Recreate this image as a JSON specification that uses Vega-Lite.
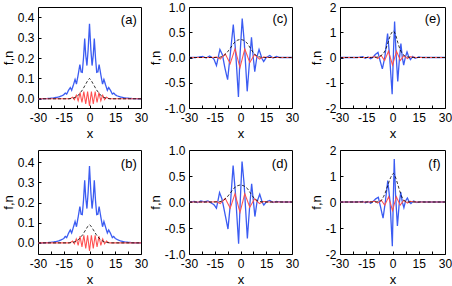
{
  "$schema": "https://vega.github.io/schema/vega-lite/v6.json",
  "padding": {"left": 1, "top": 0, "right": 1, "bottom": 0},
  "background": "white",
  "config": {
    "font": "Liberation Sans",
    "view": {"stroke": "#000", "strokeWidth": 1},
    "axis": {"grid": false, "domain": false, "tickColor": "#000", "tickSize": -3, "tickWidth": 1, "labelFontSize": 12, "labelColor": "#000", "labelPadding": 7, "titleFontSize": 13, "titleFontWeight": "normal", "titleColor": "#000", "titlePadding": 2, "labelFlush": false, "labelOverlap": false},
    "axisX": {"titlePadding": 4},
    "text": {"font": "Liberation Sans", "fontSize": 13, "color": "#000"}
  },
  "datasets": {
    "a": [
      {"s":"f","x":-30,"y":0},{"s":"f","x":-25,"y":0.001},{"s":"f","x":-21,"y":0.004},{"s":"f","x":-18,"y":0.009},{"s":"f","x":-16,"y":0.015},{"s":"f","x":-15,"y":0.02},{"s":"f","x":-14.1,"y":0.028},{"s":"f","x":-13.3,"y":0.023},{"s":"f","x":-12.2,"y":0.042},{"s":"f","x":-11.2,"y":0.055},{"s":"f","x":-10.4,"y":0.042},{"s":"f","x":-9.3,"y":0.07},{"s":"f","x":-8.4,"y":0.095},{"s":"f","x":-7.6,"y":0.072},{"s":"f","x":-6.6,"y":0.118},{"s":"f","x":-5.6,"y":0.168},{"s":"f","x":-4.9,"y":0.132},{"s":"f","x":-4.2,"y":0.13},{"s":"f","x":-3.5,"y":0.2},{"s":"f","x":-2.8,"y":0.295},{"s":"f","x":-2.2,"y":0.215},{"s":"f","x":-1.5,"y":0.163},{"s":"f","x":-0.8,"y":0.24},{"s":"f","x":0,"y":0.368},{"s":"f","x":0.8,"y":0.24},{"s":"f","x":1.5,"y":0.163},{"s":"f","x":2.2,"y":0.215},{"s":"f","x":2.8,"y":0.295},{"s":"f","x":3.5,"y":0.2},{"s":"f","x":4.2,"y":0.13},{"s":"f","x":4.9,"y":0.132},{"s":"f","x":5.6,"y":0.168},{"s":"f","x":6.6,"y":0.118},{"s":"f","x":7.6,"y":0.072},{"s":"f","x":8.4,"y":0.095},{"s":"f","x":9.3,"y":0.07},{"s":"f","x":10.4,"y":0.042},{"s":"f","x":11.2,"y":0.055},{"s":"f","x":12.2,"y":0.042},{"s":"f","x":13.3,"y":0.023},{"s":"f","x":14.1,"y":0.028},{"s":"f","x":15,"y":0.02},{"s":"f","x":16,"y":0.015},{"s":"f","x":18,"y":0.009},{"s":"f","x":21,"y":0.004},{"s":"f","x":25,"y":0.001},{"s":"f","x":30,"y":0},
      {"s":"g","x":-30,"y":0},{"s":"g","x":-12,"y":0},{"s":"g","x":-11,"y":0.002},{"s":"g","x":-9.9,"y":0.008},{"s":"g","x":-8.8,"y":-0.004},{"s":"g","x":-7.7,"y":0.018},{"s":"g","x":-6.6,"y":-0.01},{"s":"g","x":-5.5,"y":0.03},{"s":"g","x":-4.4,"y":-0.018},{"s":"g","x":-3.3,"y":0.035},{"s":"g","x":-2.2,"y":-0.025},{"s":"g","x":-1.1,"y":0.035},{"s":"g","x":0,"y":-0.035},{"s":"g","x":1.1,"y":0.035},{"s":"g","x":2.2,"y":-0.025},{"s":"g","x":3.3,"y":0.035},{"s":"g","x":4.4,"y":-0.018},{"s":"g","x":5.5,"y":0.03},{"s":"g","x":6.6,"y":-0.01},{"s":"g","x":7.7,"y":0.018},{"s":"g","x":8.8,"y":-0.004},{"s":"g","x":9.9,"y":0.008},{"s":"g","x":11,"y":0.002},{"s":"g","x":12,"y":0},{"s":"g","x":30,"y":0},
      {"s":"n","x":-30,"y":0},{"s":"n","x":-12,"y":0},{"s":"n","x":-10,"y":0.002},{"s":"n","x":-8,"y":0.008},{"s":"n","x":-6,"y":0.022},{"s":"n","x":-4,"y":0.045},{"s":"n","x":-2,"y":0.075},{"s":"n","x":-1,"y":0.09},{"s":"n","x":0,"y":0.1},{"s":"n","x":1,"y":0.09},{"s":"n","x":2,"y":0.075},{"s":"n","x":4,"y":0.045},{"s":"n","x":6,"y":0.022},{"s":"n","x":8,"y":0.008},{"s":"n","x":10,"y":0.002},{"s":"n","x":12,"y":0},{"s":"n","x":30,"y":0}
    ],
    "b": [
      {"s":"f","x":-30,"y":0},{"s":"f","x":-25,"y":0.001},{"s":"f","x":-21,"y":0.004},{"s":"f","x":-18,"y":0.01},{"s":"f","x":-16,"y":0.017},{"s":"f","x":-15,"y":0.022},{"s":"f","x":-14.1,"y":0.032},{"s":"f","x":-13.3,"y":0.026},{"s":"f","x":-12.2,"y":0.048},{"s":"f","x":-11.2,"y":0.064},{"s":"f","x":-10.4,"y":0.049},{"s":"f","x":-9.3,"y":0.08},{"s":"f","x":-8.4,"y":0.106},{"s":"f","x":-7.6,"y":0.08},{"s":"f","x":-6.6,"y":0.128},{"s":"f","x":-5.6,"y":0.18},{"s":"f","x":-4.9,"y":0.142},{"s":"f","x":-4.2,"y":0.14},{"s":"f","x":-3.5,"y":0.21},{"s":"f","x":-2.8,"y":0.31},{"s":"f","x":-2.2,"y":0.225},{"s":"f","x":-1.5,"y":0.17},{"s":"f","x":-0.8,"y":0.25},{"s":"f","x":0,"y":0.38},{"s":"f","x":0.8,"y":0.25},{"s":"f","x":1.5,"y":0.17},{"s":"f","x":2.2,"y":0.225},{"s":"f","x":2.8,"y":0.31},{"s":"f","x":3.5,"y":0.21},{"s":"f","x":4.2,"y":0.14},{"s":"f","x":4.9,"y":0.142},{"s":"f","x":5.6,"y":0.18},{"s":"f","x":6.6,"y":0.128},{"s":"f","x":7.6,"y":0.08},{"s":"f","x":8.4,"y":0.106},{"s":"f","x":9.3,"y":0.08},{"s":"f","x":10.4,"y":0.049},{"s":"f","x":11.2,"y":0.064},{"s":"f","x":12.2,"y":0.048},{"s":"f","x":13.3,"y":0.026},{"s":"f","x":14.1,"y":0.032},{"s":"f","x":15,"y":0.022},{"s":"f","x":16,"y":0.017},{"s":"f","x":18,"y":0.01},{"s":"f","x":21,"y":0.004},{"s":"f","x":25,"y":0.001},{"s":"f","x":30,"y":0},
      {"s":"g","x":-30,"y":0},{"s":"g","x":-12,"y":0},{"s":"g","x":-11,"y":0.002},{"s":"g","x":-9.9,"y":0.009},{"s":"g","x":-8.8,"y":-0.005},{"s":"g","x":-7.7,"y":0.02},{"s":"g","x":-6.6,"y":-0.012},{"s":"g","x":-5.5,"y":0.033},{"s":"g","x":-4.4,"y":-0.02},{"s":"g","x":-3.3,"y":0.038},{"s":"g","x":-2.2,"y":-0.028},{"s":"g","x":-1.1,"y":0.038},{"s":"g","x":0,"y":-0.04},{"s":"g","x":1.1,"y":0.038},{"s":"g","x":2.2,"y":-0.028},{"s":"g","x":3.3,"y":0.038},{"s":"g","x":4.4,"y":-0.02},{"s":"g","x":5.5,"y":0.033},{"s":"g","x":6.6,"y":-0.012},{"s":"g","x":7.7,"y":0.02},{"s":"g","x":8.8,"y":-0.005},{"s":"g","x":9.9,"y":0.009},{"s":"g","x":11,"y":0.002},{"s":"g","x":12,"y":0},{"s":"g","x":30,"y":0},
      {"s":"n","x":-30,"y":0},{"s":"n","x":-12,"y":0},{"s":"n","x":-10,"y":0.002},{"s":"n","x":-8,"y":0.007},{"s":"n","x":-6,"y":0.02},{"s":"n","x":-4,"y":0.04},{"s":"n","x":-2,"y":0.068},{"s":"n","x":-1,"y":0.082},{"s":"n","x":0,"y":0.09},{"s":"n","x":1,"y":0.082},{"s":"n","x":2,"y":0.068},{"s":"n","x":4,"y":0.04},{"s":"n","x":6,"y":0.02},{"s":"n","x":8,"y":0.007},{"s":"n","x":10,"y":0.002},{"s":"n","x":12,"y":0},{"s":"n","x":30,"y":0}
    ],
    "c": [
      {"s":"f","x":-30,"y":0},{"s":"f","x":-26,"y":0},{"s":"f","x":-24,"y":0.01},{"s":"f","x":-22,"y":0.02},{"s":"f","x":-20,"y":-0.01},{"s":"f","x":-18,"y":0.03},{"s":"f","x":-16.5,"y":0},{"s":"f","x":-15.5,"y":-0.03},{"s":"f","x":-14,"y":-0.16},{"s":"f","x":-12,"y":0.16},{"s":"f","x":-10.5,"y":0.05},{"s":"f","x":-9,"y":-0.22},{"s":"f","x":-7.5,"y":-0.44},{"s":"f","x":-6,"y":0.05},{"s":"f","x":-4.2,"y":0.65},{"s":"f","x":-2.8,"y":0.1},{"s":"f","x":-1.2,"y":-0.78},{"s":"f","x":-0.2,"y":0.1},{"s":"f","x":1,"y":0.77},{"s":"f","x":2.2,"y":0.3},{"s":"f","x":3.9,"y":-0.67},{"s":"f","x":5.2,"y":-0.1},{"s":"f","x":6.4,"y":0.4},{"s":"f","x":7.3,"y":0.05},{"s":"f","x":8.3,"y":-0.28},{"s":"f","x":9.5,"y":0},{"s":"f","x":10.8,"y":0.16},{"s":"f","x":12.5,"y":-0.02},{"s":"f","x":13.5,"y":-0.08},{"s":"f","x":15,"y":0},{"s":"f","x":17,"y":0.04},{"s":"f","x":19,"y":-0.01},{"s":"f","x":21,"y":0.02},{"s":"f","x":23,"y":0},{"s":"f","x":30,"y":0},
      {"s":"g","x":-30,"y":0},{"s":"g","x":-16,"y":0},{"s":"g","x":-14,"y":0.01},{"s":"g","x":-11.8,"y":-0.03},{"s":"g","x":-8.9,"y":0.07},{"s":"g","x":-6,"y":-0.12},{"s":"g","x":-3.2,"y":0.17},{"s":"g","x":-0.3,"y":-0.2},{"s":"g","x":2.5,"y":0.17},{"s":"g","x":5.4,"y":-0.1},{"s":"g","x":8.2,"y":0.06},{"s":"g","x":11,"y":-0.03},{"s":"g","x":13.5,"y":0.01},{"s":"g","x":16,"y":0},{"s":"g","x":30,"y":0},
      {"s":"n","x":-30,"y":0},{"s":"n","x":-14,"y":0},{"s":"n","x":-12,"y":0.005},{"s":"n","x":-10,"y":0.03},{"s":"n","x":-8,"y":0.09},{"s":"n","x":-6,"y":0.18},{"s":"n","x":-4,"y":0.28},{"s":"n","x":-2,"y":0.34},{"s":"n","x":0,"y":0.36},{"s":"n","x":2,"y":0.34},{"s":"n","x":4,"y":0.28},{"s":"n","x":6,"y":0.17},{"s":"n","x":8,"y":0.07},{"s":"n","x":10,"y":0.02},{"s":"n","x":12,"y":0.005},{"s":"n","x":14,"y":0},{"s":"n","x":30,"y":0}
    ],
    "d": [
      {"s":"f","x":-30,"y":0},{"s":"f","x":-27,"y":0.01},{"s":"f","x":-25,"y":-0.01},{"s":"f","x":-23,"y":0.02},{"s":"f","x":-21,"y":0},{"s":"f","x":-19,"y":0.02},{"s":"f","x":-17,"y":-0.02},{"s":"f","x":-15.5,"y":-0.05},{"s":"f","x":-14,"y":-0.12},{"s":"f","x":-12.2,"y":0.18},{"s":"f","x":-10.8,"y":0.06},{"s":"f","x":-9.2,"y":-0.2},{"s":"f","x":-7.3,"y":-0.52},{"s":"f","x":-5.8,"y":0},{"s":"f","x":-4.3,"y":0.7},{"s":"f","x":-2.9,"y":0.15},{"s":"f","x":-1.1,"y":-0.8},{"s":"f","x":-0.1,"y":0.05},{"s":"f","x":0.9,"y":0.78},{"s":"f","x":2.1,"y":0.35},{"s":"f","x":4,"y":-0.7},{"s":"f","x":5.3,"y":-0.1},{"s":"f","x":6.5,"y":0.35},{"s":"f","x":7.4,"y":0.05},{"s":"f","x":8.4,"y":-0.28},{"s":"f","x":9.6,"y":0},{"s":"f","x":11.2,"y":0.15},{"s":"f","x":12.6,"y":0},{"s":"f","x":13.6,"y":-0.06},{"s":"f","x":15,"y":0},{"s":"f","x":17,"y":0.03},{"s":"f","x":19,"y":-0.01},{"s":"f","x":21,"y":0.01},{"s":"f","x":24,"y":0},{"s":"f","x":30,"y":0},
      {"s":"g","x":-30,"y":0},{"s":"g","x":-16,"y":0},{"s":"g","x":-14,"y":0.01},{"s":"g","x":-11.8,"y":-0.03},{"s":"g","x":-8.9,"y":0.07},{"s":"g","x":-6,"y":-0.12},{"s":"g","x":-3.2,"y":0.16},{"s":"g","x":-0.3,"y":-0.2},{"s":"g","x":2.5,"y":0.16},{"s":"g","x":5.4,"y":-0.1},{"s":"g","x":8.2,"y":0.06},{"s":"g","x":11,"y":-0.03},{"s":"g","x":13.5,"y":0.01},{"s":"g","x":16,"y":0},{"s":"g","x":30,"y":0},
      {"s":"n","x":-30,"y":0},{"s":"n","x":-14,"y":0},{"s":"n","x":-12,"y":0.005},{"s":"n","x":-10,"y":0.03},{"s":"n","x":-8,"y":0.085},{"s":"n","x":-6,"y":0.17},{"s":"n","x":-4,"y":0.26},{"s":"n","x":-2,"y":0.31},{"s":"n","x":0,"y":0.33},{"s":"n","x":2,"y":0.31},{"s":"n","x":4,"y":0.26},{"s":"n","x":6,"y":0.16},{"s":"n","x":8,"y":0.07},{"s":"n","x":10,"y":0.02},{"s":"n","x":12,"y":0.005},{"s":"n","x":14,"y":0},{"s":"n","x":30,"y":0}
    ],
    "e": [
      {"s":"f","x":-30,"y":0},{"s":"f","x":-20,"y":0},{"s":"f","x":-17,"y":0.03},{"s":"f","x":-15.5,"y":-0.03},{"s":"f","x":-14,"y":0.02},{"s":"f","x":-12.5,"y":-0.05},{"s":"f","x":-11,"y":0.02},{"s":"f","x":-9.8,"y":0.12},{"s":"f","x":-8.3,"y":0.2},{"s":"f","x":-7,"y":-0.15},{"s":"f","x":-5.8,"y":-0.45},{"s":"f","x":-4.4,"y":0},{"s":"f","x":-2.8,"y":0.95},{"s":"f","x":-1.6,"y":0},{"s":"f","x":-0.2,"y":-1.45},{"s":"f","x":0.6,"y":0.3},{"s":"f","x":1.2,"y":1.42},{"s":"f","x":2,"y":0.2},{"s":"f","x":3,"y":-0.95},{"s":"f","x":3.9,"y":-0.1},{"s":"f","x":4.8,"y":0.55},{"s":"f","x":5.6,"y":0},{"s":"f","x":6.4,"y":-0.3},{"s":"f","x":7.3,"y":0},{"s":"f","x":8.3,"y":0.22},{"s":"f","x":9.3,"y":0.02},{"s":"f","x":10.3,"y":-0.08},{"s":"f","x":11.5,"y":0.04},{"s":"f","x":13,"y":-0.03},{"s":"f","x":15,"y":0.02},{"s":"f","x":17,"y":0},{"s":"f","x":30,"y":0},
      {"s":"g","x":-30,"y":0},{"s":"g","x":-14,"y":0},{"s":"g","x":-12,"y":0.01},{"s":"g","x":-10,"y":0.03},{"s":"g","x":-8.5,"y":-0.04},{"s":"g","x":-6.5,"y":0.08},{"s":"g","x":-4.5,"y":-0.12},{"s":"g","x":-2.3,"y":0.25},{"s":"g","x":0,"y":-0.3},{"s":"g","x":2.3,"y":0.25},{"s":"g","x":4.5,"y":-0.12},{"s":"g","x":6.5,"y":0.08},{"s":"g","x":8.5,"y":-0.04},{"s":"g","x":10,"y":0.03},{"s":"g","x":12,"y":0.01},{"s":"g","x":14,"y":0},{"s":"g","x":30,"y":0},
      {"s":"n","x":-30,"y":0},{"s":"n","x":-12,"y":0},{"s":"n","x":-10,"y":0.005},{"s":"n","x":-8,"y":0.02},{"s":"n","x":-6,"y":0.1},{"s":"n","x":-5,"y":0.18},{"s":"n","x":-4,"y":0.3},{"s":"n","x":-3,"y":0.5},{"s":"n","x":-2,"y":0.72},{"s":"n","x":-1,"y":0.92},{"s":"n","x":0,"y":1.03},{"s":"n","x":0.5,"y":1.05},{"s":"n","x":1,"y":1.02},{"s":"n","x":2,"y":0.85},{"s":"n","x":3,"y":0.6},{"s":"n","x":4,"y":0.38},{"s":"n","x":5,"y":0.22},{"s":"n","x":6,"y":0.12},{"s":"n","x":7,"y":0.06},{"s":"n","x":8,"y":0.03},{"s":"n","x":10,"y":0.005},{"s":"n","x":12,"y":0},{"s":"n","x":30,"y":0}
    ],
    "f": [
      {"s":"f","x":-30,"y":0},{"s":"f","x":-20,"y":0},{"s":"f","x":-17,"y":0.02},{"s":"f","x":-15.5,"y":-0.03},{"s":"f","x":-14,"y":0.02},{"s":"f","x":-12.5,"y":-0.05},{"s":"f","x":-11,"y":0.03},{"s":"f","x":-9.6,"y":0.12},{"s":"f","x":-8.1,"y":0.18},{"s":"f","x":-6.8,"y":-0.2},{"s":"f","x":-5.4,"y":-0.62},{"s":"f","x":-4.1,"y":0},{"s":"f","x":-2.7,"y":0.82},{"s":"f","x":-1.4,"y":0},{"s":"f","x":-0.1,"y":-1.7},{"s":"f","x":0.5,"y":0.2},{"s":"f","x":1,"y":1.65},{"s":"f","x":1.8,"y":0.2},{"s":"f","x":2.8,"y":-0.92},{"s":"f","x":3.8,"y":-0.1},{"s":"f","x":4.7,"y":0.38},{"s":"f","x":5.6,"y":0},{"s":"f","x":6.5,"y":-0.22},{"s":"f","x":7.5,"y":0.05},{"s":"f","x":8.5,"y":0.15},{"s":"f","x":9.6,"y":0},{"s":"f","x":10.5,"y":-0.06},{"s":"f","x":12,"y":0.04},{"s":"f","x":14,"y":-0.02},{"s":"f","x":16,"y":0.01},{"s":"f","x":18,"y":0},{"s":"f","x":30,"y":0},
      {"s":"g","x":-30,"y":0},{"s":"g","x":-14,"y":0},{"s":"g","x":-12,"y":0.01},{"s":"g","x":-10,"y":0.03},{"s":"g","x":-8.5,"y":-0.04},{"s":"g","x":-6.5,"y":0.07},{"s":"g","x":-4.4,"y":-0.12},{"s":"g","x":-2.2,"y":0.2},{"s":"g","x":0,"y":-0.33},{"s":"g","x":2.2,"y":0.2},{"s":"g","x":4.4,"y":-0.12},{"s":"g","x":6.5,"y":0.07},{"s":"g","x":8.5,"y":-0.04},{"s":"g","x":10,"y":0.03},{"s":"g","x":12,"y":0.01},{"s":"g","x":14,"y":0},{"s":"g","x":30,"y":0},
      {"s":"n","x":-30,"y":0},{"s":"n","x":-10,"y":0},{"s":"n","x":-8,"y":0.01},{"s":"n","x":-7,"y":0.02},{"s":"n","x":-6,"y":0.1},{"s":"n","x":-5,"y":0.22},{"s":"n","x":-4,"y":0.38},{"s":"n","x":-3,"y":0.58},{"s":"n","x":-2,"y":0.78},{"s":"n","x":-1,"y":0.95},{"s":"n","x":0,"y":1.07},{"s":"n","x":0.5,"y":1.1},{"s":"n","x":1,"y":1.07},{"s":"n","x":2,"y":0.9},{"s":"n","x":3,"y":0.68},{"s":"n","x":4,"y":0.45},{"s":"n","x":5,"y":0.25},{"s":"n","x":6,"y":0.1},{"s":"n","x":7,"y":0.03},{"s":"n","x":8,"y":0.01},{"s":"n","x":10,"y":0},{"s":"n","x":30,"y":0}
    ]
  },
  "bounds": "flush",
  "align": "each",
  "columns": 3,
  "spacing": {"row": 42, "column": 48},
  "concat": [
    {"width": 103, "height": 101,
     "encoding": {
       "x": {"field": "x", "type": "quantitative", "scale": {"domain": [-30, 30], "nice": false}, "axis": {"values": [-30,-22.5,-15,-7.5,0,7.5,15,22.5,30], "labelExpr": "datum.value % 15 == 0 ? '' + datum.value : ''", "title": "x"}},
       "y": {"field": "y", "type": "quantitative", "scale": {"domain": [-0.045, 0.45], "nice": false, "zero": false}, "axis": {"values": [0,0.1,0.2,0.3,0.4], "format": ".1f", "title": "f,n"}}
     },
     "layer": [
      {"data": {"name": "a"}, "mark": {"type": "line", "clip": true},
       "encoding": {
         "color": {"field": "s", "type": "nominal", "scale": {"domain": ["f","g","n"], "range": ["#3b5cf2","#ff5050","#000000"]}, "legend": null},
         "strokeDash": {"field": "s", "type": "nominal", "scale": {"domain": ["f","g","n"], "range": [[1,0],[1,0],[3,2]]}, "legend": null},
         "strokeWidth": {"field": "s", "type": "ordinal", "scale": {"domain": ["f","g","n"], "range": [1.3,0.8,1.5]}, "legend": null}
       }},
      {"data": {"values": [{"x": 27.5, "y": 0.388}]}, "mark": {"type": "text", "text": "(a)", "align": "right", "baseline": "middle"}, "encoding": {}}
    ]},
    {"width": 103, "height": 101,
     "encoding": {
       "x": {"field": "x", "type": "quantitative", "scale": {"domain": [-30, 30], "nice": false}, "axis": {"values": [-30,-22.5,-15,-7.5,0,7.5,15,22.5,30], "labelExpr": "datum.value % 15 == 0 ? '' + datum.value : ''", "title": "x"}},
       "y": {"field": "y", "type": "quantitative", "scale": {"domain": [-1, 1], "nice": false, "zero": false}, "axis": {"values": [-1,-0.5,0,0.5,1], "labelExpr": "replace(format(datum.value, '.1f'), '\u2212', '-')", "title": "f,n"}}
     },
     "layer": [
      {"data": {"name": "c"}, "mark": {"type": "line", "clip": true},
       "encoding": {
         "color": {"field": "s", "type": "nominal", "scale": {"domain": ["f","g","n"], "range": ["#3b5cf2","#ff5050","#000000"]}, "legend": null},
         "strokeDash": {"field": "s", "type": "nominal", "scale": {"domain": ["f","g","n"], "range": [[1,0],[1,0],[3,2]]}, "legend": null},
         "strokeWidth": {"field": "s", "type": "ordinal", "scale": {"domain": ["f","g","n"], "range": [1.3,0.8,1.5]}, "legend": null}
       }},
      {"data": {"values": [{"x": 27.5, "y": 0.76}]}, "mark": {"type": "text", "text": "(c)", "align": "right", "baseline": "middle"}, "encoding": {}}
    ]},
    {"width": 105, "height": 101,
     "encoding": {
       "x": {"field": "x", "type": "quantitative", "scale": {"domain": [-30, 30], "nice": false}, "axis": {"values": [-30,-22.5,-15,-7.5,0,7.5,15,22.5,30], "labelExpr": "datum.value % 15 == 0 ? '' + datum.value : ''", "title": "x"}},
       "y": {"field": "y", "type": "quantitative", "scale": {"domain": [-2, 2], "nice": false, "zero": false}, "axis": {"values": [-2,-1,0,1,2], "labelExpr": "'' + datum.value", "title": "f,n"}}
     },
     "layer": [
      {"data": {"name": "e"}, "mark": {"type": "line", "clip": true},
       "encoding": {
         "color": {"field": "s", "type": "nominal", "scale": {"domain": ["f","g","n"], "range": ["#3b5cf2","#ff5050","#000000"]}, "legend": null},
         "strokeDash": {"field": "s", "type": "nominal", "scale": {"domain": ["f","g","n"], "range": [[1,0],[1,0],[3,2]]}, "legend": null},
         "strokeWidth": {"field": "s", "type": "ordinal", "scale": {"domain": ["f","g","n"], "range": [1.3,0.8,1.5]}, "legend": null}
       }},
      {"data": {"values": [{"x": 27.5, "y": 1.52}]}, "mark": {"type": "text", "text": "(e)", "align": "right", "baseline": "middle"}, "encoding": {}}
    ]},
    {"width": 103, "height": 104,
     "encoding": {
       "x": {"field": "x", "type": "quantitative", "scale": {"domain": [-30, 30], "nice": false}, "axis": {"values": [-30,-22.5,-15,-7.5,0,7.5,15,22.5,30], "labelExpr": "datum.value % 15 == 0 ? '' + datum.value : ''", "title": "x"}},
       "y": {"field": "y", "type": "quantitative", "scale": {"domain": [-0.055, 0.46], "nice": false, "zero": false}, "axis": {"values": [0,0.1,0.2,0.3,0.4], "format": ".1f", "title": "f,n"}}
     },
     "layer": [
      {"data": {"name": "b"}, "mark": {"type": "line", "clip": true},
       "encoding": {
         "color": {"field": "s", "type": "nominal", "scale": {"domain": ["f","g","n"], "range": ["#3b5cf2","#ff5050","#000000"]}, "legend": null},
         "strokeDash": {"field": "s", "type": "nominal", "scale": {"domain": ["f","g","n"], "range": [[1,0],[1,0],[3,2]]}, "legend": null},
         "strokeWidth": {"field": "s", "type": "ordinal", "scale": {"domain": ["f","g","n"], "range": [1.3,0.8,1.5]}, "legend": null}
       }},
      {"data": {"values": [{"x": 27.5, "y": 0.39}]}, "mark": {"type": "text", "text": "(b)", "align": "right", "baseline": "middle"}, "encoding": {}}
    ]},
    {"width": 103, "height": 104,
     "encoding": {
       "x": {"field": "x", "type": "quantitative", "scale": {"domain": [-30, 30], "nice": false}, "axis": {"values": [-30,-22.5,-15,-7.5,0,7.5,15,22.5,30], "labelExpr": "datum.value % 15 == 0 ? '' + datum.value : ''", "title": "x"}},
       "y": {"field": "y", "type": "quantitative", "scale": {"domain": [-1, 1], "nice": false, "zero": false}, "axis": {"values": [-1,-0.5,0,0.5,1], "labelExpr": "replace(format(datum.value, '.1f'), '\u2212', '-')", "title": "f,n"}}
     },
     "layer": [
      {"data": {"name": "d"}, "mark": {"type": "line", "clip": true},
       "encoding": {
         "color": {"field": "s", "type": "nominal", "scale": {"domain": ["f","g","n"], "range": ["#3b5cf2","#ff5050","#000000"]}, "legend": null},
         "strokeDash": {"field": "s", "type": "nominal", "scale": {"domain": ["f","g","n"], "range": [[1,0],[1,0],[3,2]]}, "legend": null},
         "strokeWidth": {"field": "s", "type": "ordinal", "scale": {"domain": ["f","g","n"], "range": [1.3,0.8,1.5]}, "legend": null}
       }},
      {"data": {"values": [{"x": 27.5, "y": 0.73}]}, "mark": {"type": "text", "text": "(d)", "align": "right", "baseline": "middle"}, "encoding": {}}
    ]},
    {"width": 105, "height": 104,
     "encoding": {
       "x": {"field": "x", "type": "quantitative", "scale": {"domain": [-30, 30], "nice": false}, "axis": {"values": [-30,-22.5,-15,-7.5,0,7.5,15,22.5,30], "labelExpr": "datum.value % 15 == 0 ? '' + datum.value : ''", "title": "x"}},
       "y": {"field": "y", "type": "quantitative", "scale": {"domain": [-2, 2], "nice": false, "zero": false}, "axis": {"values": [-2,-1,0,1,2], "labelExpr": "'' + datum.value", "title": "f,n"}}
     },
     "layer": [
      {"data": {"name": "f"}, "mark": {"type": "line", "clip": true},
       "encoding": {
         "color": {"field": "s", "type": "nominal", "scale": {"domain": ["f","g","n"], "range": ["#3b5cf2","#ff5050","#000000"]}, "legend": null},
         "strokeDash": {"field": "s", "type": "nominal", "scale": {"domain": ["f","g","n"], "range": [[1,0],[1,0],[3,2]]}, "legend": null},
         "strokeWidth": {"field": "s", "type": "ordinal", "scale": {"domain": ["f","g","n"], "range": [1.3,0.8,1.5]}, "legend": null}
       }},
      {"data": {"values": [{"x": 27.5, "y": 1.45}]}, "mark": {"type": "text", "text": "(f)", "align": "right", "baseline": "middle"}, "encoding": {}}
    ]}
  ]
}
